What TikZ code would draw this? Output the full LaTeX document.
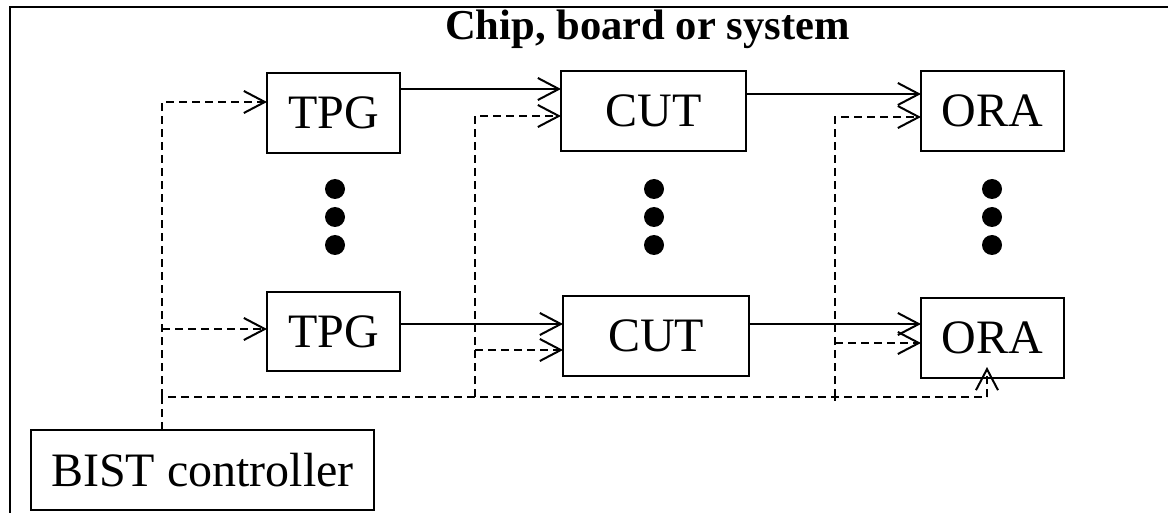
\documentclass[tikz,border=0pt]{standalone}
\usepackage{fontspec}
\setmainfont{Liberation Serif}
\usetikzlibrary{arrows.meta}

\tikzset{
  block/.style={draw, line width=2.4pt, inner sep=0pt, outer sep=0pt,
    font=\fontsize{48}{50}\selectfont},
  sig/.style={line width=2pt, -{Straight Barb[length=21pt,width=22pt,line width=2pt]}},
  ctl/.style={sig, dash pattern=on 8pt off 5pt},
  ctlline/.style={line width=2pt, dash pattern=on 8pt off 5pt},
  dotmark/.style={circle, fill, inner sep=0pt, minimum size=20pt},
  frameline/.style={line width=2.4pt}
}

\begin{document}
\begin{tikzpicture}[x=1pt,y=-1pt]
\useasboundingbox (0,0) rectangle (1168,513);

% enclosing frame (open to the right and bottom)
\draw[frameline] (1180,7) -- (10,7) -- (10,525);
\node[font=\bfseries\fontsize{42.6}{44}\selectfont, anchor=base] (title) at (647.5,40) {Chip, board or system};

% blocks
\node[block, minimum width=133pt, minimum height=80pt] (tpg1) at (333.5,113) {TPG};
\node[block, minimum width=185pt, minimum height=80pt] (cut1) at (653.5,111) {CUT};
\node[block, minimum width=143pt, minimum height=80pt] (ora1) at (992.5,111) {ORA};
\node[block, minimum width=133pt, minimum height=79pt] (tpg2) at (333.5,331.5) {TPG};
\node[block, minimum width=186pt, minimum height=80pt] (cut2) at (656,336) {CUT};
\node[block, minimum width=143pt, minimum height=80pt] (ora2) at (992.5,338) {ORA};
\node[block, minimum width=343pt, minimum height=80pt] (bist) at (202.5,470) {BIST controller};

% ellipsis dots
\foreach \c/\x in {t/335, c/654, o/992}{
  \node[dotmark] (\c1) at (\x,189) {};
  \node[dotmark] (\c2) at (\x,217) {};
  \node[dotmark] (\c3) at (\x,245) {};
}

% data paths
\draw[sig] (tpg1.east |- 0,89) -- (cut1.west |- 0,89);
\draw[sig] (cut1.east |- 0,94) -- (ora1.west |- 0,94);
\draw[sig] (tpg2.east |- 0,324) -- (cut2.west |- 0,324);
\draw[sig] (cut2.east |- 0,324) -- (ora2.west |- 0,324);

% control bus from the BIST controller
\coordinate (busL) at (162,397);
\coordinate (busM) at (475,397);
\coordinate (busR) at (835,397);
\coordinate (busE) at (987,397);

\draw[ctlline] (bist.north -| busL) -- (busL) -- (busE);
\draw[ctlline] (busR) -- (835,401);
\draw[ctl] (busL) |- (tpg1.west |- 0,102);
\draw[ctl] (busL |- 0,329) -- (tpg2.west |- 0,329);
\draw[ctl] (busM) |- (cut1.west |- 0,116);
\draw[ctl] (busM |- 0,350) -- (cut2.west |- 0,350);
\draw[ctl] (busR) |- (ora1.west |- 0,117);
\draw[ctl] (busR |- 0,343) -- (ora2.west |- 0,343);
\draw[ctl] (busE) -- (busE |- 0,367);
\end{tikzpicture}
\end{document}
